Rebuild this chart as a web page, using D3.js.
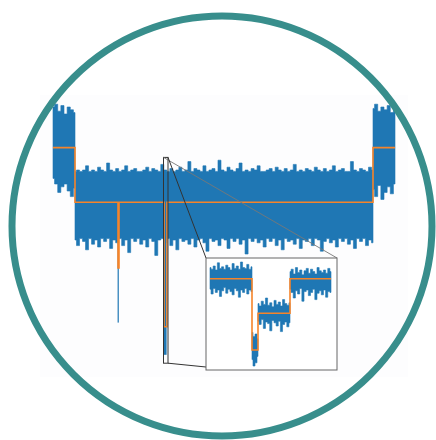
<!DOCTYPE html>
<html>
<head>
<meta charset="utf-8">
<script src="https://cdn.jsdelivr.net/npm/d3@7"></script>
<style>
  html, body { margin: 0; padding: 0; background: #fff; }
  svg { display: block; }
</style>
</head>
<body>
<div id="chart"></div>
<script>
// ---- main trace (time in samples, current in pA) ----
const openLeft = [0, 22]
const openLeftHi = [195, 197, 192, 196, 190, 195, 193, 191]
const openLeftLo = [144, 140, 134, 138, 140, 135, 131, 137]

const blocked = [22, 320]
const blockedHi = [149, 150, 149, 150, 153, 149, 150, 149, 152, 150,
                   149, 155, 150, 149, 151, 149, 150, 153, 149, 150,
                   151, 149, 149, 150, 152, 149, 151, 150, 149, 154,
                   150, 149, 151, 149, 150, 152, 149, 150, 156, 149,
                   151, 150, 149, 153, 149, 150, 151, 149, 157, 150,
                   149, 152, 150, 149, 151, 155, 149, 150, 149, 151,
                   150, 153, 149, 149, 150, 151, 149, 152, 150, 149,
                   151, 149, 150, 154, 149, 150, 149, 151, 150, 149,
                   152, 150, 149, 151, 149, 150, 153, 149, 150, 151,
                   149, 149, 156, 150, 149, 151, 150, 149, 152, 150]
const blockedLo = [100, 96, 101, 99, 93, 101, 97, 100, 95, 101,
                   99, 101, 94, 100, 98, 101, 96, 100, 91, 101,
                   99, 101, 97, 100, 95, 101, 99, 89, 100, 101,
                   98, 101, 96, 100, 93, 101, 99, 100, 97, 101,
                   95, 100, 101, 98, 92, 101, 99, 100, 96, 101,
                   100, 94, 101, 99, 101, 97, 100, 90, 101, 99,
                   101, 98, 100, 95, 101, 99, 101, 96, 100, 93,
                   101, 99, 100, 97, 101, 94, 100, 99, 101, 96,
                   101, 100, 92, 99, 101, 98, 100, 95, 101, 99,
                   101, 97, 100, 94, 101, 99, 101, 96, 100, 98]

const openRight = [320, 342]
const openRightHi = [194, 197, 192, 195, 193, 196, 191, 194]
const openRightLo = [136, 131, 139, 129, 134, 138, 133, 140]

// short events inside the blocked level
const eventStart = [65, 111]
const eventEnd = [66, 114]
const eventMean = [80, 38]
const eventMin = [41, 18]

// fitted levels (step line)
const stepTimes = [0, 22, 65, 66, 111, 114, 320, 342]
const stepLevels = [166, 127, 80, 127, 38, 127, 166, 166]

// zoomed region
const zoomTime = [110.5, 115]
const zoomCurrent = [12, 159]

// ---- inset trace (local time, pA) ----
const insetSegments = [[4, 46], [46, 52], [52, 84], [84, 125]]
const insetHi = [
  [141, 139, 143, 138, 147, 140, 142, 139, 144, 141, 138, 146, 140, 143, 139, 148, 141, 140, 145, 139, 142],
  [60, 55, 58, 52],
  [96, 93, 99, 95, 103, 94, 97, 92, 100, 95, 98, 93, 101, 96, 94, 97],
  [136, 139, 133, 141, 135, 138, 132, 137, 140, 134, 139, 136, 133, 141, 137, 135, 138, 134, 140, 136]
]
const insetLo = [
  [114, 108, 115, 110, 113, 105, 112, 116, 109, 114, 111, 107, 115, 112, 104, 113, 110, 115, 108, 113, 111],
  [26, 18, 22, 30],
  [74, 70, 76, 65, 73, 71, 62, 75, 72, 68, 74, 61, 70, 73, 67, 72],
  [114, 110, 103, 112, 108, 115, 99, 111, 113, 106, 110, 114, 101, 109, 112, 107, 113, 104, 111, 110]
]
const insetStepTimes = [4, 46, 52, 84, 125]
const insetStepLevels = [127, 38, 84, 127, 127]

const width = 436, height = 440
const colors = {
    ring: '#388e8c',
    signal: '#1f77b4',
    fit: '#f5842a',
    box: '#333',
    connector: '#777'
}

const svg = d3.select('#chart')
    .append('svg')
    .attr('width', width)
    .attr('height', height)

// faint figure background
svg.append('rect')
    .attr('x', 40).attr('y', 95)
    .attr('width', 368).attr('height', 282)
    .attr('fill', '#fdfdfe')

const x = d3.scaleLinear().domain([0, 342]).range([53, 395])
const y = d3.scaleLinear().domain([0, 200]).range([380, 100])

function bins(span, hi, lo) {
    const n = hi.length
    return hi.map((h, i) => ({
        t: span[0] + i * (span[1] - span[0]) / (n - 1),
        hi: h,
        lo: lo[i]
    }))
}

function band(xs, ys) {
    return d3.area()
        .x(d => xs(d.t))
        .y0(d => ys(d.lo))
        .y1(d => ys(d.hi))
        .curve(d3.curveStep)
}

const main = svg.append('g')
const mainArea = band(x, y)
;[[openLeft, openLeftHi, openLeftLo],
  [blocked, blockedHi, blockedLo],
  [openRight, openRightHi, openRightLo]].forEach(s => {
    main.append('path')
        .datum(bins(s[0], s[1], s[2]))
        .attr('d', mainArea)
        .attr('fill', colors.signal)
        .attr('stroke', colors.signal)
        .attr('stroke-width', 0.6)
        .attr('stroke-linejoin', 'miter')
})

// event spikes
eventStart.forEach((t0, i) => {
    main.append('rect')
        .attr('x', x(t0) - 0.4)
        .attr('y', y(127))
        .attr('width', Math.max(1.2, x(eventEnd[i]) - x(t0)))
        .attr('height', y(eventMin[i]) - y(127))
        .attr('fill', colors.signal)
})

const stepLine = (xs, ys) => d3.line()
    .x(d => xs(d[0]))
    .y(d => ys(d[1]))
    .curve(d3.curveStepAfter)

main.append('path')
    .datum(stepTimes.map((t, i) => [t, stepLevels[i]]))
    .attr('d', stepLine(x, y))
    .attr('fill', 'none')
    .attr('stroke', colors.fit)
    .attr('stroke-width', 1.6)

// inset placement
const inset = {x0: 206, x1: 337, y0: 258, y1: 370}
const ix = d3.scaleLinear().domain([0, 131]).range([inset.x0, inset.x1])
const iy = d3.scaleLinear().domain([13, 153]).range([inset.y1, inset.y0])

// zoom marker and connectors
const zx0 = x(zoomTime[0]), zx1 = x(zoomTime[1])
const zy0 = y(zoomCurrent[1]), zy1 = y(zoomCurrent[0])
svg.append('rect')
    .attr('x', zx0).attr('y', zy0)
    .attr('width', zx1 - zx0).attr('height', zy1 - zy0)
    .attr('fill', 'none')
    .attr('stroke', colors.box)
    .attr('stroke-width', 1)

svg.append('line')
    .attr('x1', zx0).attr('y1', zy0)
    .attr('x2', inset.x1).attr('y2', inset.y0)
    .attr('stroke', colors.connector).attr('stroke-width', 0.9)
svg.append('line')
    .attr('x1', zx1).attr('y1', zy0)
    .attr('x2', inset.x0).attr('y2', inset.y0)
    .attr('stroke', colors.box).attr('stroke-width', 1)
svg.append('line')
    .attr('x1', zx1).attr('y1', zy1)
    .attr('x2', inset.x0).attr('y2', inset.y1 - 3)
    .attr('stroke', colors.box).attr('stroke-width', 1)

const ig = svg.append('g')
ig.append('rect')
    .attr('x', inset.x0).attr('y', inset.y0)
    .attr('width', inset.x1 - inset.x0).attr('height', inset.y1 - inset.y0)
    .attr('fill', '#fff')
    .attr('stroke', '#666')
    .attr('stroke-width', 1)

const insetArea = band(ix, iy)
insetSegments.forEach((seg, i) => {
    ig.append('path')
        .datum(bins(seg, insetHi[i], insetLo[i]))
        .attr('d', insetArea)
        .attr('fill', colors.signal)
        .attr('stroke', colors.signal)
        .attr('stroke-width', 0.6)
})

ig.append('path')
    .datum(insetStepTimes.map((t, i) => [t, insetStepLevels[i]]))
    .attr('d', stepLine(ix, iy))
    .attr('fill', 'none')
    .attr('stroke', colors.fit)
    .attr('stroke-width', 1.6)

// outer ring
svg.append('circle')
    .attr('cx', 222).attr('cy', 226).attr('r', 210)
    .attr('fill', 'none')
    .attr('stroke', colors.ring)
    .attr('stroke-width', 7)
</script>
</body>
</html>
